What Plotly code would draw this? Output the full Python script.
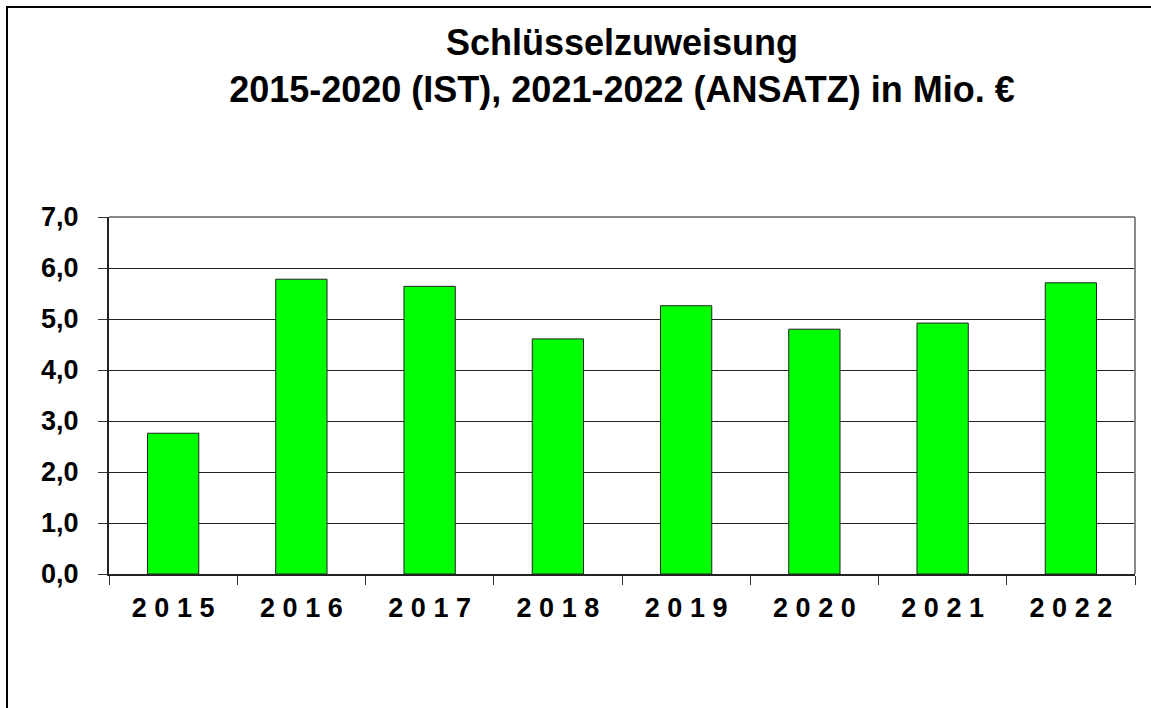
import plotly.graph_objects as go

years = ["2015", "2016", "2017", "2018", "2019", "2020", "2021", "2022"]
year_labels = ["2 0 1 5", "2 0 1 6", "2 0 1 7", "2 0 1 8", "2 0 1 9", "2 0 2 0", "2 0 2 1", "2 0 2 2"]
values = [2.76, 5.78, 5.64, 4.61, 5.26, 4.80, 4.92, 5.71]
y_ticks = [0, 1, 2, 3, 4, 5, 6, 7]

title_text = "Schlüsselzuweisung<br>2015-2020 (IST), 2021-2022 (ANSATZ) in Mio. €"

W, H = 1151, 708
ml, mr, mt, mb = 109, 16, 217, 134
pw, ph = W - ml - mr, H - mt - mb

FONT = "Arial, 'Liberation Sans', sans-serif"

fig = go.Figure()
fig.add_trace(go.Bar(
    x=years, y=values,
    marker=dict(color="#00FF00", line=dict(color="#222222", width=1)),
    width=0.4,
    hoverinfo="x+y",
))

fig.update_layout(
    width=W, height=H,
    margin=dict(l=ml, r=mr, t=mt, b=mb, autoexpand=False),
    paper_bgcolor="white", plot_bgcolor="white",
    separators=",.",
    showlegend=False,
    title=dict(
        text=title_text,
        font=dict(family=FONT, size=36, color="black", weight="bold"),
        x=(ml + pw / 2) / W, xanchor="center", xref="container",
        y=1 - 55 / H, yanchor="top", yref="container",
    ),
    xaxis=dict(
        type="category",
        tickmode="array", tickvals=years, ticktext=year_labels,
        tickson="boundaries", ticks="outside", ticklen=9, tickwidth=1, tickcolor="#333333",
        showline=True, linecolor="#222222", linewidth=2,
        showgrid=False,
        tickfont=dict(family=FONT, size=27, color="black", weight="bold"),
        ticklabelstandoff=9,
    ),
    yaxis=dict(
        range=[0, 7], tickvals=y_ticks, tickformat=".1f",
        ticks="outside", ticklen=9, tickwidth=1, tickcolor="#333333",
        showline=True, linecolor="#222222", linewidth=2,
        showgrid=True, gridcolor="#222222", gridwidth=1,
        zeroline=False,
        tickfont=dict(family=FONT, size=27, color="black", weight="bold"),
        ticklabelstandoff=14,
    ),
    shapes=[
        # plot area border top/right (gray)
        dict(type="line", xref="paper", yref="paper", x0=0, x1=1, y0=1, y1=1,
             line=dict(color="#888888", width=2)),
        dict(type="line", xref="paper", yref="paper", x0=1, x1=1, y0=0, y1=1,
             line=dict(color="#888888", width=2)),
        # outer chart frame
        dict(type="rect", xref="paper", yref="paper",
             x0=(7 - ml) / pw, x1=(W + 40 - ml) / pw,
             y0=-(H + 40 - mt - ph) / ph, y1=1 + (mt - 7) / ph,
             line=dict(color="black", width=2), layer="above"),
    ],
)

fig.write_html("out.html", config={"displayModeBar": False},
               post_script="document.body.style.margin='0px';")
